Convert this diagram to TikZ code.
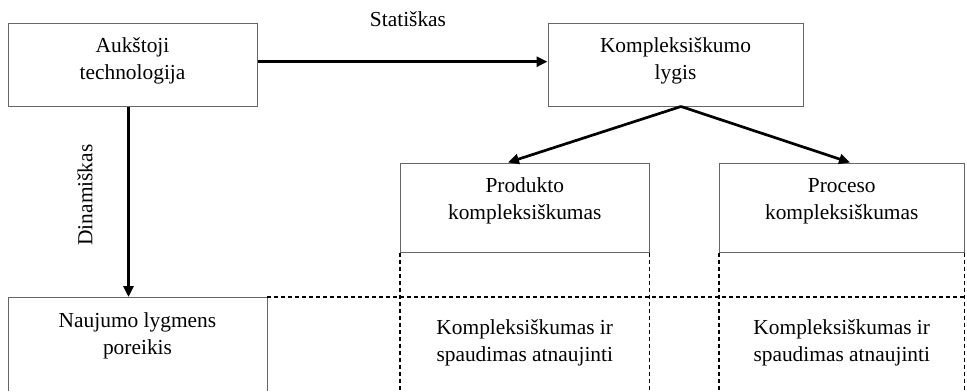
\documentclass[tikz,border=0pt]{standalone}
\usepackage{fontspec}
\setmainfont{Liberation Serif}
\usetikzlibrary{arrows.meta,calc}
\begin{document}
\begin{tikzpicture}[x=0.5pt,y=-0.5pt,
  boxline/.style={draw=black!60,line width=0.5pt},
  box/.style={boxline,rectangle,inner sep=0pt},
  txt/.style={align=center,inner sep=0pt,font=\fontsize{10.7}{13.5}\selectfont},
  dashline/.style={draw=black,line width=0.55pt,dash pattern=on 2pt off 1.5pt},
  arr/.style={draw=black,line width=1.35pt,-{Triangle[length=5.5pt,width=5pt]}}]
\useasboundingbox (0,0) rectangle (967,391);
% boxes
\node[box,minimum width=124.5pt,minimum height=41.5pt] (A) at (132.5,64.5) {};
\node[box,minimum width=127.5pt,minimum height=41.5pt] (K) at (675.5,64.5) {};
\node[box,minimum width=124.25pt,minimum height=44.5pt] (P) at (524.75,207.5) {};
\node[box,minimum width=122.25pt,minimum height=44.5pt] (Q) at (841.75,207.5) {};
% open-bottom box
\coordinate (Nbl) at (8,391);
\coordinate (Ntl) at (8,297);
\coordinate (Ntr) at (267,297);
\coordinate (Nbr) at (267,391);
\draw[boxline] (Nbl) -- (Ntl) -- (Ntr) -- (Nbr);
% dashed grid
\coordinate (Pbl) at (P.south west);
\coordinate (Pbr) at (P.south east);
\coordinate (Qbl) at (Q.south west);
\coordinate (Qbr) at (Q.south east);
\draw[dashline] (Pbl) -- (Pbl |- Nbl);
\draw[dashline] (Pbr) -- (Pbr |- Nbl);
\draw[dashline] (Qbl) -- (Qbl |- Nbl);
\draw[dashline] (Qbr) -- (Qbr |- Nbl);
\draw[dashline] (Ntr) -- (Ntr -| Qbr);
% texts
\node[txt] (tA) at (132.5,60.5) {Aukštoji\\technologija};
\node[txt] (tK) at (675.5,60.5) {Kompleksiškumo\\lygis};
\node[txt] (tP) at (524.75,201) {Produkto\\kompleksiškumas};
\node[txt] (tQ) at (841.75,201) {Proceso\\kompleksiškumas};
\node[txt] (tN) at (137.5,335.5) {Naujumo lygmens\\poreikis};
\node[txt] (tB1) at (524.75,343) {Kompleksiškumas ir\\spaudimas atnaujinti};
\node[txt] (tB2) at (841.75,343) {Kompleksiškumas ir\\spaudimas atnaujinti};
% connector labels
\node[txt] (lS) at (408,19) {Statiškas};
\node[txt,rotate=90] (lD) at (85,195) {Dinamiškas};
% arrows
\coordinate (Aout) at ($(A.east)+(0,-2.8)$);
\draw[arr] (Aout) -- (Aout -| K.west);
\coordinate (Adown) at ($(A.south)+(-4,0)$);
\draw[arr] (Adown) -- (Adown |- Ntl);
\coordinate (Kapex) at ($(K.south)+(5.5,0)$);
\coordinate (Pin) at ($(P.north)+(-16.75,0)$);
\coordinate (Qin) at ($(Q.north)+(8.25,0)$);
\draw[arr] (Kapex) -- (Pin);
\draw[arr] (Kapex) -- (Qin);
\end{tikzpicture}
\end{document}
